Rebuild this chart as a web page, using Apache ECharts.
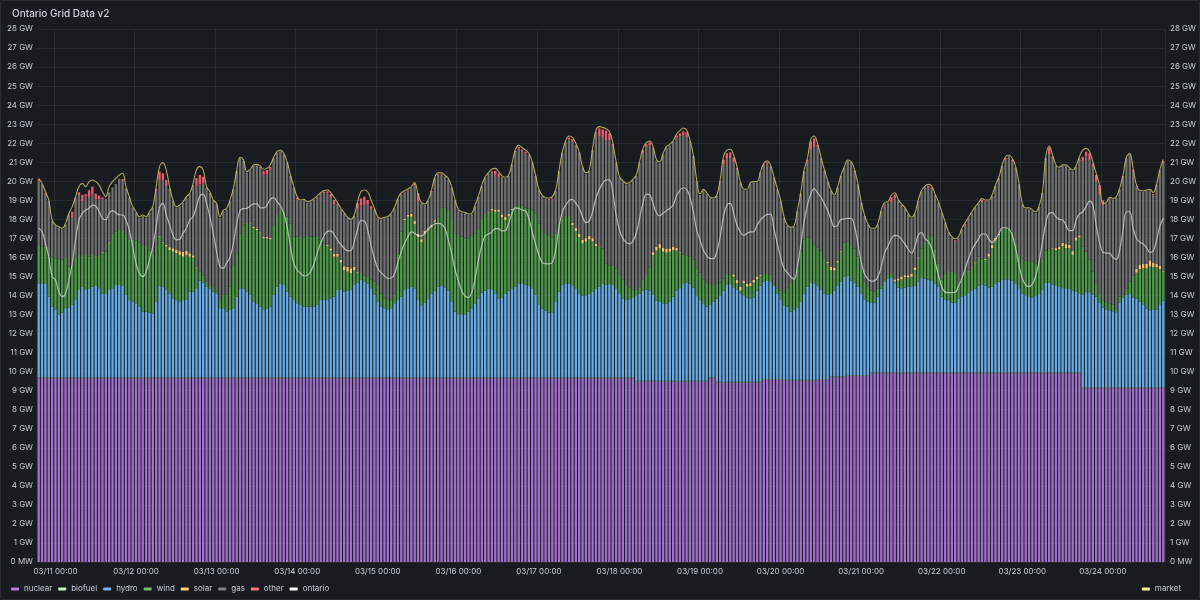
<!DOCTYPE html>
<html><head><meta charset="utf-8">
<script src="https://cdn.jsdelivr.net/npm/echarts@6/dist/echarts.min.js"></script>
<style>
html,body{margin:0;padding:0;background:#181b1f;}
#c{width:1200px;height:600px;position:relative;}
#frame{position:absolute;left:0;top:0;width:1198px;height:598px;border:1px solid rgba(204,204,220,0.10);border-radius:2px;pointer-events:none;}
</style>
</head><body><div id="c"></div><div id="frame"></div>
<script>
// hourly categories start at 03/10 19:00, 336 hours
const startMonth = '03', startDay = 10, startHour = 19, hourCount = 336;
const tickLabels = ['03/11 00:00','03/12 00:00','03/13 00:00','03/14 00:00','03/15 00:00','03/16 00:00','03/17 00:00',
  '03/18 00:00','03/19 00:00','03/20 00:00','03/21 00:00','03/22 00:00','03/23 00:00','03/24 00:00'];
const yTicksGW = [0,1,2,3,4,5,6,7,8,9,10,11,12,13,14,15,16,17,18,19,20,21,22,23,24,25,26,27,28];

// GW values
const nuclear = [
9.65,9.65,9.65,9.65,9.65,9.65,9.65,9.65,9.65,9.65,9.65,9.65,9.65,9.65,9.65,9.65,9.65,9.65,9.65,9.65,9.65,9.65,9.65,9.65,
9.65,9.65,9.65,9.65,9.65,9.65,9.65,9.65,9.65,9.65,9.65,9.65,9.65,9.65,9.65,9.65,9.65,9.65,9.65,9.65,9.65,9.65,9.65,9.65,
9.65,9.65,9.65,9.65,9.65,9.65,9.65,9.65,9.65,9.65,9.65,9.65,9.65,9.65,9.65,9.65,9.65,9.65,9.65,9.65,9.65,9.65,9.65,9.65,
9.65,9.65,9.65,9.65,9.65,9.65,9.65,9.65,9.65,9.65,9.65,9.65,9.65,9.65,9.65,9.65,9.65,9.65,9.65,9.65,9.65,9.65,9.65,9.65,
9.65,9.65,9.65,9.65,9.65,9.65,9.65,9.65,9.65,9.65,9.65,9.65,9.65,9.65,9.65,9.65,9.65,9.65,9.65,9.65,9.65,9.65,9.65,9.65,
9.65,9.65,9.65,9.65,9.65,9.65,9.65,9.65,9.65,9.65,9.65,9.65,9.65,9.65,9.65,9.65,9.65,9.65,9.65,9.65,9.65,9.65,9.65,9.65,
9.65,9.65,9.65,9.65,9.65,9.65,9.65,9.65,9.65,9.65,9.65,9.65,9.65,9.65,9.65,9.65,9.65,9.65,9.65,9.65,9.65,9.65,9.65,9.65,
9.65,9.65,9.65,9.65,9.65,9.65,9.65,9.65,9.65,9.65,
9.47,9.47,9.47,9.47,9.47,9.47,9.47,9.47,9.47,9.47,9.47,9.47,9.47,9.47,9.47,9.47,9.47,9.47,9.47,9.47,9.47,9.47,
9.65,9.65,
9.42,9.42,9.42,9.42,9.42,9.42,9.42,9.42,9.42,9.42,9.42,9.42,9.42,9.42,
9.56,9.56,9.56,9.56,9.56,9.56,9.56,
9.52,9.52,9.52,9.52,9.52,9.52,9.52,9.52,9.52,
9.56,9.56,9.56,9.56,
9.70,9.70,9.70,9.70,9.70,
9.77,9.77,9.77,9.77,9.77,9.77,9.77,
9.91,9.91,9.91,9.91,9.91,9.91,9.91,9.91,9.91,9.91,9.91,9.91,9.91,9.91,9.91,9.91,9.91,9.91,9.91,9.91,9.91,
9.91,9.91,9.91,9.91,9.91,9.91,9.91,9.91,9.91,9.91,9.91,9.91,9.91,9.91,9.91,9.91,9.91,9.91,9.91,9.91,9.91,
9.91,9.91,9.91,9.91,9.91,9.91,9.91,9.91,9.91,9.91,9.91,9.91,9.91,9.91,9.91,9.91,9.91,9.91,9.91,9.91,9.91,
9.13,9.13,9.13,9.13,9.13,9.13,9.13,9.13,9.13,9.13,9.13,9.13,9.13,9.13,9.13,9.13,9.13,9.13,9.13,9.13,9.13,9.13,9.13,9.13,9.13
];
const biofuel = [
0.05,0.05,0.05,0.06,0.05,0.05,0.05,0.05,0.04,0.05,0.05,0.05,0.05,0.05,
0.05,0.06,0.05,0.05,0.05,0.05,0.05,0.05,0.05,0.04,0.05,0.05,0.05,0.05,
0.05,0.05,0.05,0.06,0.05,0.05,0.05,0.05,0.04,0.05,0.05,0.05,0.05,0.05,
0.05,0.06,0.05,0.05,0.05,0.05,0.05,0.05,0.05,0.04,0.05,0.05,0.05,0.05,
0.05,0.05,0.05,0.06,0.05,0.05,0.05,0.05,0.04,0.05,0.05,0.05,0.05,0.05,
0.05,0.06,0.05,0.05,0.05,0.05,0.05,0.05,0.05,0.04,0.05,0.05,0.05,0.05,
0.05,0.05,0.05,0.06,0.05,0.05,0.05,0.05,0.04,0.05,0.05,0.05,0.05,0.05,
0.05,0.06,0.05,0.05,0.05,0.05,0.05,0.05,0.05,0.04,0.05,0.05,0.05,0.05,
0.05,0.05,0.05,0.06,0.05,0.05,0.05,0.05,0.04,0.05,0.05,0.05,0.05,0.05,
0.05,0.06,0.05,0.05,0.05,0.05,0.05,0.05,0.05,0.04,0.05,0.05,0.05,0.05,
0.05,0.05,0.05,0.06,0.05,0.05,0.05,0.05,0.04,0.05,0.05,0.05,0.05,0.05,
0.05,0.06,0.05,0.05,0.05,0.05,0.05,0.05,0.05,0.04,0.05,0.05,0.05,0.05,
0.05,0.05,0.05,0.06,0.05,0.05,0.05,0.05,0.04,0.05,0.05,0.05,0.05,0.05,
0.05,0.06,0.05,0.05,0.05,0.05,0.05,0.05,0.05,0.04,0.05,0.05,0.05,0.05,
0.05,0.05,0.05,0.06,0.05,0.05,0.05,0.05,0.04,0.05,0.05,0.05,0.05,0.05,
0.05,0.06,0.05,0.05,0.05,0.05,0.05,0.05,0.05,0.04,0.05,0.05,0.05,0.05,
0.05,0.05,0.05,0.06,0.05,0.05,0.05,0.05,0.04,0.05,0.05,0.05,0.05,0.05,
0.05,0.06,0.05,0.05,0.05,0.05,0.05,0.05,0.05,0.04,0.05,0.05,0.05,0.05,
0.05,0.05,0.05,0.06,0.05,0.05,0.05,0.05,0.04,0.05,0.05,0.05,0.05,0.05,
0.05,0.06,0.05,0.05,0.05,0.05,0.05,0.05,0.05,0.04,0.05,0.05,0.05,0.05,
0.05,0.05,0.05,0.06,0.05,0.05,0.05,0.05,0.04,0.05,0.05,0.05,0.05,0.05,
0.05,0.06,0.05,0.05,0.05,0.05,0.05,0.05,0.05,0.04,0.05,0.05,0.05,0.05,
0.05,0.05,0.05,0.06,0.05,0.05,0.05,0.05,0.04,0.05,0.05,0.05,0.05,0.05,
0.05,0.06,0.05,0.05,0.05,0.05,0.05,0.05,0.05,0.04,0.05,0.05,0.05,0.05
];
// top edge of the hydro layer (stacked)
const hydroTop = [
14.64,14.64,14.61,13.94,13.41,13.27,12.98,13.10,13.33,13.38,13.50,13.76,14.29,14.46,14.29,14.38,14.46,14.50,14.38,14.11,14.08,14.29,14.38,14.55,14.55,14.50,14.03,13.76,13.68,13.59,13.41,13.15,13.15,13.10,13.06,13.68,14.50,14.46,14.32,14.11,13.85,13.76,13.68,13.76,13.80,14.20,14.20,14.38,14.78,14.67,14.46,14.38,14.20,14.11,13.33,13.33,
13.15,13.24,13.33,13.94,14.38,14.38,14.20,14.03,13.68,13.55,13.41,13.24,13.33,13.41,14.03,14.46,14.64,14.55,14.20,13.94,13.76,13.59,13.50,13.41,13.41,13.41,13.41,13.50,13.76,13.76,13.80,13.85,13.94,14.29,14.29,14.20,14.25,14.32,14.55,14.67,14.82,14.73,14.61,14.38,14.03,13.68,13.41,13.33,13.24,13.33,13.59,13.76,13.94,14.29,14.38,14.46,
14.38,13.76,13.45,13.62,13.85,14.11,14.24,14.46,14.53,14.43,14.25,13.68,13.15,13.01,13.01,13.01,13.15,13.33,13.59,13.85,14.15,14.25,14.34,14.29,14.08,13.85,13.90,14.08,14.25,14.34,14.46,14.64,14.64,14.57,14.50,14.38,14.03,13.50,13.31,13.20,13.10,13.12,13.68,14.20,14.55,14.64,14.61,14.50,14.38,14.11,13.99,14.01,14.10,14.19,14.34,14.46,
14.64,14.55,14.60,14.55,14.38,14.11,13.85,13.76,13.80,13.87,13.97,14.11,14.25,14.31,14.25,14.03,13.73,13.66,13.59,13.57,13.68,13.94,14.25,14.39,14.60,14.66,14.62,14.41,13.97,13.76,13.55,13.41,13.50,13.68,13.83,14.01,14.25,14.59,14.60,14.43,14.32,14.11,13.97,13.89,13.85,13.90,14.25,14.53,14.74,14.80,14.71,14.52,14.11,13.76,13.45,13.41,
13.15,13.24,13.38,13.68,14.11,14.46,14.66,14.64,14.53,14.32,14.11,14.03,14.08,14.25,14.50,14.73,14.99,15.03,14.78,14.66,14.46,14.08,13.80,13.68,13.61,13.62,13.94,14.36,14.73,14.90,14.92,14.64,14.41,14.38,14.41,14.46,14.48,14.52,14.73,14.92,14.88,14.83,14.76,14.60,14.46,13.94,13.76,13.71,13.62,13.62,13.82,13.96,14.01,14.17,14.27,14.36,
14.53,14.59,14.52,14.41,14.46,14.64,14.73,14.82,14.85,14.85,14.78,14.60,14.34,14.11,14.01,13.92,13.89,13.97,14.08,14.29,14.66,14.66,14.59,14.50,14.45,14.39,14.38,14.34,14.25,14.22,14.08,14.03,14.17,14.17,14.06,13.94,13.62,13.36,13.27,13.22,13.17,13.12,13.62,13.90,14.06,14.08,13.90,13.82,13.68,13.54,13.31,13.22,13.24,13.27,13.54,13.73
];
// top edge of the wind layer (stacked)
const windTop = [
16.60,16.57,16.57,16.04,16.01,15.95,15.95,15.90,16.01,15.52,15.55,16.01,16.13,16.13,16.13,16.04,16.22,16.04,16.13,16.25,16.30,16.78,17.27,17.35,17.44,17.44,17.18,16.92,16.92,16.88,16.78,16.65,16.60,16.36,16.22,16.65,17.09,16.78,16.57,16.39,16.30,16.22,16.13,16.04,16.13,16.04,15.99,15.43,15.25,15.03,14.73,14.55,14.46,14.20,13.76,14.03,
14.03,14.46,15.60,16.22,17.27,17.70,17.76,17.79,17.53,17.44,17.27,17.00,17.00,16.95,17.70,18.23,18.49,18.40,18.14,17.79,17.09,17.09,17.13,17.06,17.13,17.09,17.09,17.13,16.92,16.74,16.60,16.36,16.04,16.04,15.73,15.34,15.25,15.17,15.34,15.20,15.13,15.06,14.99,14.82,14.73,14.55,14.11,13.85,13.76,13.76,14.11,16.22,17.35,17.97,18.14,18.14,
17.76,17.06,16.79,17.23,17.41,17.58,17.88,18.14,18.63,18.63,18.53,17.97,17.27,17.18,17.09,17.00,17.00,17.13,17.27,17.44,17.97,18.28,18.35,18.46,18.40,18.40,18.11,17.97,18.18,18.49,18.70,18.75,18.74,18.63,18.58,18.46,18.32,17.79,17.39,17.23,17.13,17.04,17.27,17.79,18.05,18.18,18.18,17.70,17.39,17.06,16.74,16.83,16.95,16.83,16.60,16.53,
16.48,15.69,15.57,15.59,15.43,15.17,14.85,14.55,14.43,14.32,14.29,14.46,14.82,15.13,15.48,16.13,16.36,16.48,16.30,16.25,16.30,16.39,16.36,16.25,16.16,16.08,16.02,15.87,15.43,15.20,14.85,14.67,14.60,14.55,14.64,14.67,14.90,15.13,15.08,14.99,14.64,14.25,14.64,14.46,14.50,14.67,14.85,15.03,15.13,15.13,15.08,14.64,14.38,14.25,14.15,14.40,
14.70,15.00,15.43,16.30,16.95,17.04,17.00,16.65,16.53,16.36,16.01,15.69,15.34,15.31,15.73,16.30,16.78,16.83,16.60,16.48,16.04,15.34,14.73,14.46,14.25,14.20,14.38,14.55,14.85,15.08,15.13,14.73,14.78,14.85,14.95,14.95,14.99,15.34,15.95,16.48,16.83,17.18,17.14,16.48,15.69,14.85,15.17,15.29,15.24,15.13,14.55,14.99,15.34,15.25,15.43,15.73,
16.04,15.95,15.87,16.04,16.48,16.88,17.18,17.51,17.53,17.51,17.35,16.78,16.13,15.95,15.83,15.81,15.78,15.69,15.87,15.95,16.36,16.48,16.43,16.39,16.43,16.60,16.48,16.48,16.13,16.88,17.06,16.57,16.30,15.87,15.25,14.64,14.08,13.71,13.64,13.59,13.54,13.33,13.94,14.03,14.38,14.73,15.03,15.20,15.38,15.43,15.41,15.52,15.48,15.48,15.38,15.25
];
const solar = [
0,0,0,0,0,0,0,0,0,0, 0,0,0,0,0.03,0,0,0.03,0,0.04, 0,0.05,0,0,0,0,0,0,0,0, 0,0,0,0,0,0,0.04,0.05,0.1,0.15, 0.18,0.2,0.2,0.25,0.22,0.18,0.12,0.05,0,0, 0,0,0,0,0,0,
0,0,0,0,0,0,0.03,0.05,0.08,0.08, 0.05,0.1,0.08,0.08,0,0,0,0,0,0, 0,0,0,0,0,0,0,0,0,0, 0.05,0.12,0.17,0.14,0.14,0.2,0.26,0.26,0.18,0.05, 0,0,0,0,0,0,0,0,0,0, 0,0,0,0.05,0.1,0.15,
0.15,0.17,0.17,0.17,0.12,0.12,0.08,0,0,0, 0,0,0,0,0,0,0,0,0,0, 0,0,0.05,0.08,0.12,0.12,0.15,0.15,0.1,0.05, 0,0,0,0,0,0,0,0,0,0, 0,0,0,0,0,0,0,0.12,0.15,0.17, 0.2,0.18,0.18,0.18,0.12,0.05,
0,0,0,0,0,0,0,0,0,0, 0,0,0,0,0,0.15,0.2,0.22,0.22,0.22, 0.18,0.18,0.15,0.05,0,0,0,0,0,0, 0,0,0,0,0,0,0,0,0,0.12, 0.17,0.2,0.15,0.15,0.15,0.15,0.15,0.05,0,0, 0,0,0,0,0,0,
0,0,0,0,0,0,0,0,0,0, 0,0.08,0.17,0.15,0.08,0.05,0,0,0,0, 0,0,0,0,0,0,0,0,0,0, 0,0.12,0.12,0.14,0.12,0.12,0.14,0.14,0.05,0, 0,0,0,0,0,0,0,0,0,0, 0,0,0,0.03,0.05,0.05,
0,0,0.05,0.17,0.18,0.15,0.08,0,0,0, 0,0,0,0,0,0,0,0,0,0, 0,0,0.05,0.1,0.14,0.17,0.22,0.18,0.2,0.18, 0.1,0,0,0,0,0,0,0,0,0, 0,0,0,0,0,0,0,0.2,0.22,0.22, 0.25,0.33,0.25,0.2,0.17,0.05
];
const other = [
0.1,0,0.05,0,0,0,0,0,0,0, 0.35,0,0.15,0.35,0.1,0.35,0.4,0.3,0.2,0.1, 0,0,0,0,0,0.12,0,0,0,0, 0,0,0,0,0,0.1,0.45,0.35,0.35,0, 0,0,0,0,0,0,0,0.4,0.5,0.35, 0,0,0,0,0,0,
0,0,0,0,0,0,0,0,0,0, 0,0.2,0.25,0.15,0,0,0,0,0,0.05, 0,0.1,0,0,0,0,0,0,0,0.08, 0.1,0.2,0.25,0,0,0,0,0,0,0.3, 0.35,0.45,0.25,0.15,0,0.05,0,0,0,0, 0,0,0,0.05,0.05,0,
0.1,0.45,0,0,0,0.08,0,0,0.05,0, 0,0,0,0,0,0,0,0,0,0, 0,0,0,0.05,0.25,0.2,0,0,0,0, 0.08,0.08,0.08,0.08,0,0.05,0,0,0,0, 0.08,0.05,0,0,0,0,0.1,0.15,0,0, 0,0,0,0,0,0.4,
0.45,0.5,0.35,0.1,0,0,0,0,0,0, 0,0,0.18,0.18,0.15,0.05,0,0,0,0, 0,0,0.1,0.15,0.18,0.25,0,0,0,0, 0,0,0,0,0,0,0.25,0.3,0.3,0.25, 0.05,0,0,0,0,0,0,0,0.05,0.05, 0,0,0,0,0,0,
0,0,0,0.08,0,0.08,0.45,0.45,0.08,0, 0,0,0,0,0,0,0,0,0,0.08, 0,0,0,0,0,0,0,0,0.05,0, 0.25,0.2,0,0.05,0,0,0,0,0,0, 0,0.1,0.1,0,0,0,0,0,0,0.05, 0,0,0.05,0,0,0,
0,0.15,0,0,0,0,0,0,0.1,0, 0.1,0,0,0,0,0,0,0,0,0, 0,0.35,0.1,0,0,0,0,0,0,0, 0,0.25,0.25,0.35,0.18,0.35,0.5,0.25,0,0, 0,0,0,0,0,0,0.08,0.05,0,0, 0,0,0.05,0,0,0.1
];
// top edge of the whole stack (top of "other")
const totalTop = [
20.11,19.84,19.40,18.97,17.92,17.65,17.57,17.48,17.74,18.27,18.40,19.14,19.42,19.29,19.32,19.53,19.72,19.35,19.25,19.15,19.09,19.42,19.68,19.86,20.13,20.12,19.62,19.14,18.62,18.35,18.09,18.18,18.09,18.35,18.62,19.60,20.51,20.42,20.07,19.62,18.97,18.62,18.70,18.88,19.14,19.32,19.80,20.16,20.33,20.24,19.67,19.40,18.97,18.79,18.09,18.44,
18.53,18.97,19.58,20.54,21.21,21.07,20.46,20.58,20.81,20.84,20.75,20.55,20.60,20.75,21.21,21.51,21.59,21.42,20.98,20.28,19.67,19.14,18.97,19.00,18.88,18.93,19.04,19.18,19.35,19.46,19.47,19.33,19.02,18.83,18.53,18.30,18.06,17.95,18.18,18.85,19.10,19.19,19.02,18.70,18.53,18.09,18.00,18.06,18.09,18.27,18.58,19.06,19.35,19.46,19.55,19.67,
19.88,19.38,18.83,18.76,18.97,19.49,20.16,20.40,20.40,20.26,20.11,19.67,19.00,18.48,18.35,18.32,18.23,18.27,18.70,19.18,19.75,20.19,20.40,20.55,20.55,20.42,20.23,20.16,20.28,20.89,21.60,21.80,21.68,21.55,21.40,20.98,20.28,19.53,19.21,19.09,19.07,19.14,19.49,20.54,21.51,22.06,22.30,22.22,21.92,21.51,20.72,20.40,20.54,21.65,22.60,22.78,
22.73,22.66,22.51,21.95,20.98,20.19,19.98,19.84,19.88,20.05,20.28,20.98,21.65,21.95,22.05,21.77,21.10,20.98,21.42,21.77,21.89,22.08,22.40,22.52,22.62,22.57,22.12,21.33,20.02,19.28,19.53,19.35,19.11,19.07,19.23,20.02,21.14,21.48,21.52,21.25,20.70,19.93,19.55,19.53,19.88,19.93,19.93,20.46,20.89,21.03,20.80,20.19,19.58,18.97,18.09,17.65,
17.53,17.60,18.41,19.33,20.54,21.14,22.10,22.25,21.92,21.24,20.58,19.98,19.49,19.23,19.67,20.28,20.72,21.07,20.98,20.56,19.84,18.88,18.18,17.71,17.48,17.48,17.74,18.44,18.82,18.88,19.16,19.30,19.00,18.75,18.58,18.27,18.06,18.27,18.97,19.46,19.70,19.76,19.67,19.28,18.88,18.35,17.83,17.30,17.04,16.92,17.04,17.48,17.76,18.06,18.35,18.62,
18.83,19.02,18.97,18.97,19.23,19.75,20.16,20.81,21.22,21.33,21.14,20.72,19.84,18.79,18.55,18.56,18.44,18.35,18.65,19.40,21.22,21.78,21.30,20.81,20.68,20.81,20.81,20.67,20.54,20.75,21.22,21.29,21.56,21.47,20.94,20.33,19.80,19.00,18.83,19.11,19.05,19.14,19.58,20.28,21.21,21.42,20.60,19.74,19.46,19.44,19.49,19.53,19.33,19.81,20.58,21.05
];
const ontario = [
17.53,17.35,16.74,16.04,14.99,14.82,14.20,13.94,14.11,14.82,15.69,16.92,17.97,18.32,18.49,18.58,18.75,18.70,18.40,18.05,17.97,18.32,18.46,18.35,18.23,18.23,17.97,17.44,16.57,15.69,15.17,14.99,15.25,15.87,16.57,17.62,18.63,18.84,18.23,17.70,17.18,16.92,16.95,17.27,17.53,17.97,18.14,18.67,19.23,19.33,18.84,18.14,17.27,16.30,15.52,15.43,
15.72,16.01,16.74,17.79,18.46,18.56,18.58,18.70,18.81,18.81,18.61,18.60,18.75,19.05,19.14,18.93,18.70,18.32,17.62,16.57,15.69,15.34,15.17,15.03,15.06,15.25,15.66,16.25,16.74,17.13,17.37,17.39,17.21,16.92,16.67,16.48,16.34,16.36,16.83,17.48,17.93,17.91,17.44,16.65,15.95,15.43,15.20,15.03,14.90,14.92,15.13,15.72,16.30,16.74,17.09,17.34,
17.27,17.14,17.13,17.27,17.48,17.65,17.77,17.79,17.74,17.53,16.92,16.22,15.38,14.78,14.25,13.97,13.90,14.15,14.90,15.87,16.65,17.13,17.23,17.34,17.51,17.51,17.39,17.41,17.79,18.32,18.60,18.58,18.49,18.44,18.05,17.35,16.71,16.13,15.73,15.67,15.66,15.73,16.39,17.62,18.40,18.75,18.98,19.05,18.84,18.58,18.14,17.83,17.93,18.40,19.11,19.58,
19.89,20.07,20.07,19.45,18.23,17.44,17.00,16.79,16.71,16.86,17.27,18.05,18.84,19.33,19.28,18.84,18.35,18.19,18.32,18.46,18.58,18.75,19.23,19.54,19.66,19.58,19.16,18.40,17.44,16.92,16.39,16.09,15.94,15.94,16.30,17.09,18.14,18.75,18.84,18.32,17.70,17.34,17.16,17.27,17.34,17.35,17.70,17.97,18.14,18.26,18.28,17.53,16.74,16.01,15.43,15.20,
14.99,14.85,15.52,16.65,17.88,18.75,19.33,19.61,19.40,19.16,18.84,18.46,18.00,17.62,17.70,18.00,18.02,18.05,18.05,17.65,16.74,15.78,15.13,14.87,14.75,14.78,14.99,15.52,16.25,16.60,16.99,17.16,17.13,16.95,16.71,16.43,16.22,16.57,17.18,17.30,17.00,16.83,16.48,15.78,15.08,14.46,14.18,14.15,14.15,14.17,14.50,14.90,15.41,15.95,16.39,16.71,
16.99,17.23,17.23,16.97,16.78,16.97,17.23,17.55,17.56,17.49,17.18,16.48,15.60,14.90,14.55,14.48,14.60,15.03,15.78,16.83,17.79,18.32,18.35,18.14,18.00,17.97,17.70,17.41,17.41,17.97,18.28,18.40,18.67,18.96,18.75,17.70,16.78,16.27,16.23,16.22,16.01,15.90,16.39,17.44,18.40,18.40,17.53,17.00,16.79,16.71,16.51,16.27,16.34,16.92,17.65,18.05
];
const market = [
20.16,19.89,19.45,19.02,17.97,17.70,17.62,17.53,17.79,18.32,18.67,19.19,19.72,19.89,19.72,19.98,20.07,19.98,19.80,19.45,19.19,19.72,19.98,20.16,20.33,20.42,19.72,19.19,18.67,18.40,18.14,18.23,18.14,18.40,18.67,19.72,20.77,20.98,20.59,19.72,19.02,18.67,18.75,18.93,19.19,19.37,19.89,20.59,20.77,20.59,19.72,19.45,19.02,18.84,18.14,18.49,
18.58,19.02,19.63,20.59,21.26,21.12,20.51,20.63,20.86,20.89,20.80,20.63,20.68,20.86,21.26,21.56,21.64,21.47,21.03,20.33,19.72,19.19,19.02,19.05,18.93,18.98,19.09,19.23,19.40,19.51,19.54,19.40,19.16,18.88,18.58,18.35,18.11,18.00,18.23,18.93,19.45,19.54,19.45,19.02,18.58,18.14,18.05,18.11,18.14,18.32,18.63,19.11,19.40,19.51,19.60,19.72,
19.93,19.33,18.88,18.81,19.02,19.54,20.21,20.45,20.45,20.31,20.16,19.72,19.05,18.53,18.40,18.37,18.28,18.32,18.75,19.23,19.80,20.24,20.45,20.65,20.68,20.51,20.28,20.21,20.33,20.94,21.68,21.89,21.77,21.64,21.47,21.03,20.33,19.58,19.26,19.14,19.12,19.19,19.54,20.59,21.56,22.13,22.38,22.31,21.99,21.56,20.77,20.45,20.59,21.73,22.69,22.87,
22.83,22.76,22.61,22.03,21.03,20.24,20.03,19.89,19.93,20.10,20.33,21.03,21.73,22.03,22.12,21.82,21.15,21.03,21.47,21.82,21.94,22.13,22.48,22.66,22.80,22.69,22.17,21.38,20.07,19.33,19.58,19.40,19.16,19.12,19.28,20.07,21.29,21.64,21.68,21.38,20.77,19.98,19.60,19.58,19.93,19.98,19.98,20.51,20.94,21.08,20.85,20.24,19.63,19.02,18.14,17.70,
17.58,17.65,18.46,19.40,20.59,21.21,22.20,22.38,21.99,21.29,20.63,20.03,19.54,19.28,19.72,20.33,20.77,21.12,21.03,20.63,19.89,18.93,18.23,17.76,17.53,17.53,17.79,18.49,18.89,18.93,19.28,19.40,19.05,18.81,18.63,18.32,18.11,18.32,19.02,19.51,19.75,19.84,19.75,19.33,18.93,18.40,17.88,17.35,17.09,16.98,17.09,17.53,17.83,18.11,18.40,18.67,
18.88,19.09,19.02,19.02,19.28,19.80,20.21,20.86,21.29,21.38,21.21,20.77,19.89,18.84,18.60,18.61,18.49,18.40,18.70,19.45,21.29,21.85,21.38,20.86,20.73,20.86,20.86,20.72,20.59,20.80,21.29,21.64,21.73,21.56,21.03,20.42,19.80,18.84,18.88,19.16,19.10,19.19,19.63,20.33,21.26,21.47,20.68,19.80,19.51,19.49,19.54,19.58,19.40,19.86,20.63,21.15
];

// ---- build categories (hour labels) ----
const pad = n => String(n).padStart(2, '0');
const categories = [];
for (let i = 0; i < hourCount; i++) {
  const t = startHour + i;
  categories.push(startMonth + '/' + pad(startDay + Math.floor(t / 24)) + ' ' + pad(t % 24) + ':00');
}
const r3 = v => Math.max(0, Math.round(v * 1000) / 1000);
// stacked layer thicknesses from the stack boundaries
const hydro = hydroTop.map((v, i) => r3(v - nuclear[i] - biofuel[i]));
const wind = windTop.map((v, i) => r3(v - hydroTop[i]));
const gas = totalTop.map((v, i) => r3(v - other[i] - solar[i] - windTop[i]));

const lens = {nuclear, biofuel, hydroTop, windTop, solar, other, totalTop, ontario, market};
const bad = Object.keys(lens).filter(k => lens[k].length !== hourCount).map(k => k + ':' + lens[k].length);

const FONT = 'Inter, "DejaVu Sans", sans-serif';
const TXT = '#c7cbd4';
const GRID = 'rgba(204,204,220,0.09)';
const isDay = (idx, val) => tickLabels.indexOf(val) >= 0;
const yFmt = v => v === 0 ? '0 MW' : v + ' GW';

const barBase = {type: 'bar', stack: 'gen', barCategoryGap: '30%', xAxisIndex: 0, yAxisIndex: 0};
const chart = echarts.init(document.getElementById('c'), null, {renderer: 'canvas'});
chart.setOption({
  backgroundColor: '#181b1f',
  animation: false,
  textStyle: {fontFamily: FONT},
  title: {text: 'Ontario Grid Data v2' + (bad.length ? '  LEN ' + bad.join(',') : ''), left: 7, top: 4,
    textStyle: {color: '#d0d3dc', fontSize: 10, fontWeight: 500, fontFamily: FONT}},
  grid: {left: 37, right: 35, top: 29, bottom: 38, containLabel: false},
  legend: [
    {left: 6, top: 580, icon: 'roundRect', itemWidth: 8, itemHeight: 3, itemGap: 6,
     textStyle: {color: TXT, fontSize: 8, fontFamily: FONT},
     data: [
       {name: 'nuclear', itemStyle: {color: '#B877D9'}},
       {name: 'biofuel', itemStyle: {color: '#C8F2C2'}},
       {name: 'hydro', itemStyle: {color: '#73B3F0'}},
       {name: 'wind', itemStyle: {color: '#73BF69'}},
       {name: 'solar', itemStyle: {color: '#FFCB7D'}},
       {name: 'gas', itemStyle: {color: '#808080'}},
       {name: 'other', itemStyle: {color: '#FF7383'}},
       {name: 'ontario', itemStyle: {color: '#FFFFFF'}}
     ]},
    {right: 14, top: 580, icon: 'roundRect', itemWidth: 8, itemHeight: 3,
     textStyle: {color: TXT, fontSize: 8, fontFamily: FONT},
     data: [{name: 'market', itemStyle: {color: '#FFF899'}}]}
  ],
  xAxis: {
    type: 'category', data: categories, boundaryGap: true,
    axisLine: {show: false}, axisTick: {show: false},
    axisLabel: {interval: isDay, color: TXT, fontSize: 8, margin: 6, fontFamily: FONT},
    splitLine: {show: true, interval: isDay, lineStyle: {color: GRID, width: 1}}
  },
  yAxis: [
    {type: 'value', min: yTicksGW[0], max: yTicksGW[yTicksGW.length - 1], interval: 1, position: 'left',
     axisLine: {show: false}, axisTick: {show: false},
     axisLabel: {formatter: yFmt, color: TXT, fontSize: 8, margin: 4, fontFamily: FONT},
     splitLine: {show: true, lineStyle: {color: GRID, width: 1}}},
    {type: 'value', min: yTicksGW[0], max: yTicksGW[yTicksGW.length - 1], interval: 1, position: 'right',
     axisLine: {show: false}, axisTick: {show: false},
     axisLabel: {formatter: yFmt, color: TXT, fontSize: 8, margin: 5, fontFamily: FONT},
     splitLine: {show: false}}
  ],
  series: [
    Object.assign({}, barBase, {name: 'nuclear', data: nuclear, itemStyle: {color: '#9f6fca'}}),
    Object.assign({}, barBase, {name: 'biofuel', data: biofuel, itemStyle: {color: 'rgba(200,242,194,0.6)'}}),
    Object.assign({}, barBase, {name: 'hydro', data: hydro, itemStyle: {color: '#68abe3'}}),
    Object.assign({}, barBase, {name: 'wind', data: wind, itemStyle: {color: '#4f9a48'}}),
    Object.assign({}, barBase, {name: 'solar', data: solar, itemStyle: {color: '#f3c672'}}),
    Object.assign({}, barBase, {name: 'gas', data: gas, itemStyle: {color: '#6f6f6f'}}),
    Object.assign({}, barBase, {name: 'other', data: other, itemStyle: {color: '#ea5a6e'}}),
    {name: 'ontario', type: 'line', data: ontario, smooth: 0.4, showSymbol: false, z: 5,
     itemStyle: {color: '#ffffff'}, lineStyle: {color: 'rgba(215,215,215,0.75)', width: 1.2}},
    {name: 'market', type: 'line', data: market, smooth: 0.4, showSymbol: false, z: 6,
     itemStyle: {color: '#FFF899'}, lineStyle: {color: 'rgba(205,192,100,0.85)', width: 1.1}}
  ]
});
</script>
</body></html>
